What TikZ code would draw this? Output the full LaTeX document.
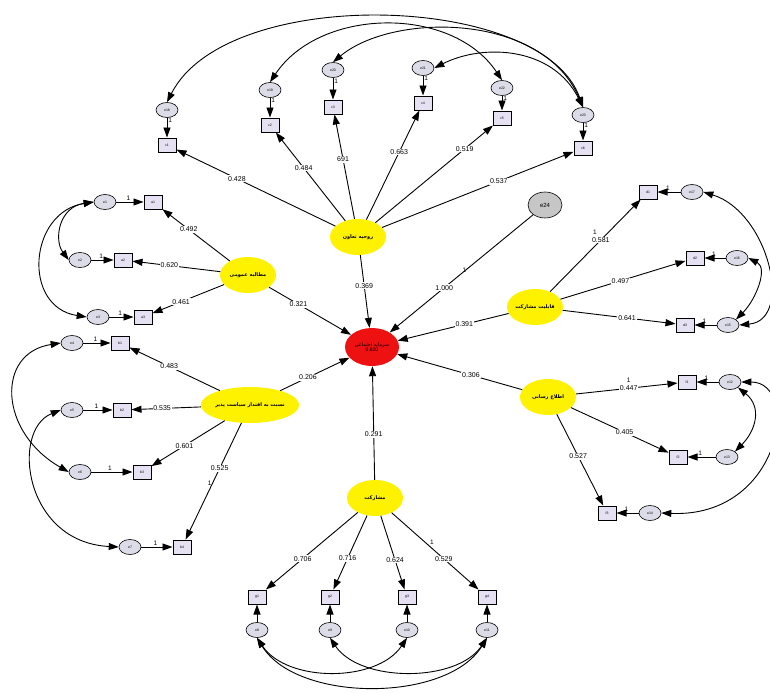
\documentclass[tikz,border=0pt]{standalone}
\usepackage{fontspec}
\setmainfont{Liberation Sans}
\newfontfamily\arabicfont[Script=Arabic]{DejaVu Sans}
\TeXXeTstate=1
\usetikzlibrary{arrows.meta,shapes.geometric,positioning}
\definecolor{latfill}{HTML}{FFF200}
\definecolor{obsfill}{HTML}{E6E1F2}
\definecolor{errfill}{HTML}{DCDCE8}
\definecolor{redfill}{HTML}{EE1111}
\newcommand{\fa}[1]{{\arabicfont\beginR #1\endR}}

\begin{document}
\begin{tikzpicture}[x=1pt,y=-1pt,
  lat/.style={ellipse,fill=latfill,minimum width=56pt,minimum height=36pt,inner sep=0pt,font=\fontsize{5}{6}\selectfont\bfseries},
  obs/.style={rectangle,draw,line width=1pt,fill=obsfill,minimum width=18pt,minimum height=14pt,inner sep=0pt,font=\fontsize{3.5}{4}\selectfont},
  err/.style={ellipse,draw,line width=0.6pt,fill=errfill,minimum width=22pt,minimum height=15pt,inner sep=0pt,font=\fontsize{3.5}{4}\selectfont},
  load/.style={-{Triangle[length=10pt,width=7pt]},line width=0.9pt},
  cov/.style={{Triangle[length=10pt,width=7pt]}-{Triangle[length=10pt,width=7pt]},line width=0.9pt},
  lbl/.style={fill=white,inner sep=0.8pt,font=\fontsize{7}{8}\selectfont},
  one/.style={inner sep=0.8pt,font=\fontsize{6.5}{7}\selectfont}]
  \useasboundingbox (0,0) rectangle (770,693);

  % latent variables
  \node[ellipse,fill=redfill,minimum width=54pt,minimum height=38pt,inner sep=0pt,align=center,font=\fontsize{5}{5.5}\selectfont] (sc) at (372,347) {\fa{سرمایه اجتماعی}\\0.820};
  \node[lat] (coop) at (358,237) {\fa{روحیه تعاون}};
  \node[lat] (dem) at (248,275) {\fa{مطالبه عمومی}};
  \node[lat] (cap) at (535,307) {\fa{قابلیت مشارکت}};
  \node[lat] (acc) at (250,405) {\fa{نسبت به اقتدار سیاست پذیر}};
  \node[lat] (inf) at (548,397) {\fa{اطلاع رسانی}};
  \node[lat] (par) at (375,498) {\fa{مشارکت}};
  \node[err,minimum width=34pt,minimum height=26pt,fill=gray!45,font=\fontsize{6}{7}\selectfont] (e24) at (545,205) {e24};

  % structural paths
  \draw[load] (coop) -- (sc) node[lbl,pos=.42]{0.369};
  \draw[load] (dem) -- (sc) node[lbl,pos=.36]{0.321};
  \draw[load] (acc) -- (sc) node[lbl,pos=.4]{0.206};
  \draw[load] (cap) -- (sc) node[lbl,pos=.4]{0.391};
  \draw[load] (inf) -- (sc) node[lbl,pos=.41]{0.306};
  \draw[load] (par) -- (sc) node[lbl,pos=.4]{0.291};
  \draw[load] (e24) -- (sc) node[lbl,pos=.62]{1.000} node[one,pos=.5,above right]{1};

  % top group
  \foreach \n/\x/\y/\ey/\e/\v/\p in {1/167/145/110/e18/0.428/.62,2/270/125/90/e19/0.484/.6,3/333/107/70/e20/691/.57,4/423/103/68/e21/0.663/.62,5/502/118/88/e22/0.519/.76,6/583/148/115/e23/0.537/.61}{
    \node[obs] (t\n) at (\x,\y) {c\n};
    \node[err] (te\n) at (\x,\ey) {\e};
    \draw[load] (te\n) -- (t\n) node[one,pos=.15,right]{1};
    \draw[load] (coop) -- (t\n) node[lbl,pos=\p]{\v};
  }
  \draw[cov] (te1.north) .. controls +(60,-118) and +(-40,-115) .. (te6.north);
  \draw[cov] (te2.north) .. controls +(50,-75) and +(-50,-75) .. (te5.north);
  \draw[cov] (te3.north) .. controls +(60,-50) and +(-40,-95) .. (te6.north);
  \draw[cov] (te4.east) .. controls +(50,-25) and +(-30,-60) .. (te6.north);

  % left upper group
  \foreach \n/\x/\y/\ex/\e/\v/\p in {1/153/202/105/e1/0.492/.61,2/123/260/80/e2/0.620/.58,3/143/317/98/e3/0.461/.6}{
    \node[obs] (a\n) at (\x,\y) {a\n};
    \node[err] (ae\n) at (\ex,\y) {\e};
    \draw[load] (ae\n) -- (a\n) node[one,pos=.45,above]{1};
    \draw[load] (dem) -- (a\n) node[lbl,pos=\p]{\v};
  }
  \draw[cov] (ae1.west) .. controls +(-35,5) and +(-15,-20) .. (ae2.west);
  \draw[cov] (ae1.west) .. controls +(-65,10) and +(-65,-10) .. (ae3.west);

  % left lower group
  \foreach \n/\x/\y/\ex/\e/\v/\p in {1/120/343/72/e4/0.483/.56,2/122/410/72/e5/0.535/.56,3/142/472/80/e6/0.601/.55,4/182/547/130/e7/0.525/.39}{
    \node[obs] (b\n) at (\x,\y) {b\n};
    \node[err] (be\n) at (\ex,\y) {\e};
    \draw[load] (be\n) -- (b\n) node[one,pos=.45,above]{1};
    \draw[load] (acc) -- (b\n) node[lbl,pos=\p]{\v};
  }
  \path (acc) -- (b4) node[one,pos=.52,left]{1};
  \draw[cov] (be1.west) .. controls +(-65,10) and +(-70,-40) .. (be3.west);
  \draw[cov] (be2.west) .. controls +(-50,20) and +(-95,-5) .. (be4.west);

  % right group
  \foreach \n/\x/\y/\ex/\e/\v/\p in {1/648/192/692/e17/0.581/.56,2/695/258/737/e16/0.497/.48,3/685/325/728/e15/0.641/.57}{
    \node[obs] (d\n) at (\x,\y) {d\n};
    \node[err] (de\n) at (\ex,\y) {\e};
    \draw[load] (de\n) -- (d\n) node[one,pos=.55,above]{1};
    \draw[load] (cap) -- (d\n) node[lbl,pos=\p]{\v};
  }
  \path (cap) -- (d1) node[one,pos=.56,above=5pt,xshift=-6pt]{1};
  \draw[cov] (de1.east) .. controls +(65,20) and +(55,-5) .. (de3.east);
  \draw[cov] (de2.east) .. controls +(20,10) and +(20,-20) .. (de3.north east);

  % right lower group
  \foreach \n/\x/\y/\ex/\e/\v/\p in {1/687/382/730/e12/0.447/.52,2/678/457/727/e13/0.405/.55,3/607/513/650/e14/0.527/.46}{
    \node[obs] (f\n) at (\x,\y) {f\n};
    \node[err] (fe\n) at (\ex,\y) {\e};
    \draw[load] (fe\n) -- (f\n) node[one,pos=.55,above]{1};
    \draw[load] (inf) -- (f\n) node[lbl,pos=\p]{\v};
  }
  \path (inf) -- (f1) node[one,pos=.52,above=5pt]{1};
  \draw[cov] (fe1.south east) .. controls +(25,20) and +(20,-20) .. (fe2.north east);
  \draw[cov] (fe1.east) .. controls +(60,0) and +(120,5) .. (fe3.east);

  % bottom group
  \foreach \n/\x/\e/\v/\p in {1/257/e8/0.706/.6,2/330/e9/0.716/.58,3/407/e10/0.624/.6,4/487/e11/0.529/.6}{
    \node[obs] (g\n) at (\x,597) {g\n};
    \node[err] (ge\n) at (\x,630) {\e};
    \draw[load] (ge\n) -- (g\n);
    \draw[load] (par) -- (g\n) node[lbl,pos=\p]{\v};
  }
  \path (par) -- (g4) node[one,pos=.43,above right]{1};
  \draw[cov] (ge1.south) .. controls +(40,65) and +(-40,65) .. (ge4.south);
  \draw[cov] (ge1.south) .. controls +(30,45) and +(-30,45) .. (ge3.south);
  \draw[cov] (ge2.south) .. controls +(30,45) and +(-30,45) .. (ge4.south);
\end{tikzpicture}
\end{document}
